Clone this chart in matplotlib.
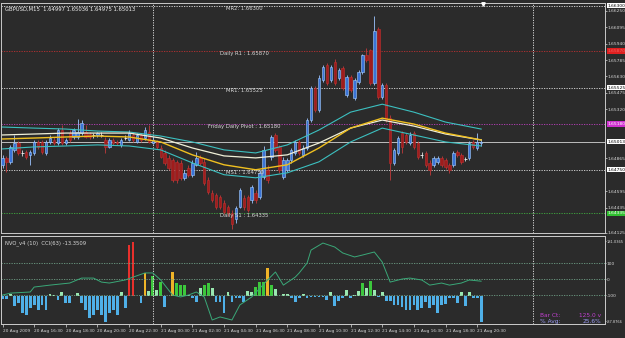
import matplotlib
matplotlib.use('Agg')
import matplotlib.pyplot as plt
import matplotlib.transforms as mtransforms
import numpy as np

# GBPUSD M15, 20 Aug 2009 14:30 .. 21 Aug 2009 20:45
opens = [1.64795, 1.64860, 1.64823, 1.64936, 1.65001, 1.64907, 1.64917, 1.64889, 1.64907, 1.65011,
         1.65011, 1.64907, 1.65011, 1.65030, 1.65001, 1.65124, 1.65001, 1.65095, 1.65058, 1.65058,
         1.65095, 1.65105, 1.65086, 1.65077, 1.65077, 1.65077, 1.65030, 1.64964, 1.65030, 1.65011,
         1.64983, 1.65048, 1.65030, 1.65077, 1.65011, 1.65077, 1.65048, 1.65105, 1.65001, 1.65011,
         1.64954, 1.64907, 1.64860, 1.64842, 1.64823, 1.64813, 1.64672, 1.64766, 1.64701, 1.64795,
         1.64860, 1.64823, 1.64654, 1.64531, 1.64513, 1.64494, 1.64437, 1.64400, 1.64343, 1.64278,
         1.64400, 1.64484, 1.64494, 1.64466, 1.64531, 1.64494, 1.64682, 1.64748, 1.64870, 1.65077,
         1.64964, 1.64682, 1.64748, 1.64842, 1.64907, 1.65011, 1.64889, 1.64954, 1.65218, 1.65518,
         1.65312, 1.65594, 1.65735, 1.65594, 1.65763, 1.65612, 1.65706, 1.65453, 1.65622, 1.65424,
         1.65575, 1.65669, 1.65829, 1.65876, 1.65565, 1.66082, 1.65434, 1.65547, 1.65236, 1.64813,
         1.64907, 1.65095, 1.65077, 1.65001, 1.65095, 1.65001, 1.64889, 1.64907, 1.64813, 1.64795,
         1.64823, 1.64860, 1.64842, 1.64795, 1.64795, 1.64917, 1.64889, 1.64851, 1.64860, 1.65011,
         1.64954, 1.64997]
closes = [1.64860, 1.64823, 1.64964, 1.65001, 1.64907, 1.64907, 1.64870, 1.64917, 1.65011, 1.64964,
          1.64917, 1.65011, 1.65048, 1.65001, 1.65124, 1.65001, 1.65030, 1.65030, 1.65124, 1.65105,
          1.65189, 1.65058, 1.65058, 1.65077, 1.65095, 1.65077, 1.64964, 1.65030, 1.65001, 1.65001,
          1.65030, 1.65048, 1.65095, 1.65030, 1.65077, 1.65030, 1.65124, 1.65011, 1.65030, 1.64964,
          1.64870, 1.64813, 1.64766, 1.64654, 1.64654, 1.64672, 1.64719, 1.64701, 1.64813, 1.64860,
          1.64813, 1.64625, 1.64541, 1.64466, 1.64400, 1.64400, 1.64353, 1.64343, 1.64231, 1.64390,
          1.64560, 1.64400, 1.64372, 1.64588, 1.64466, 1.64719, 1.64936, 1.64654, 1.65058, 1.64936,
          1.64748, 1.64842, 1.64842, 1.64936, 1.65011, 1.64907, 1.64954, 1.65218, 1.65518, 1.65312,
          1.65612, 1.65716, 1.65565, 1.65716, 1.65565, 1.65688, 1.65518, 1.65622, 1.65500, 1.65594,
          1.65669, 1.65829, 1.65782, 1.65565, 1.66064, 1.65434, 1.65547, 1.65218, 1.64813, 1.64936,
          1.65048, 1.64964, 1.65011, 1.65077, 1.64964, 1.64870, 1.64889, 1.64795, 1.64748, 1.64860,
          1.64860, 1.64795, 1.64776, 1.64748, 1.64907, 1.64889, 1.64823, 1.64851, 1.65001, 1.64964,
          1.65011, 1.65013]
highs = [1.64889, 1.64879, 1.64983, 1.65077, 1.65020, 1.64936, 1.64936, 1.64936, 1.65030, 1.65030,
         1.65030, 1.65030, 1.65077, 1.65058, 1.65142, 1.65171, 1.65048, 1.65124, 1.65142, 1.65227,
         1.65218, 1.65171, 1.65105, 1.65095, 1.65105, 1.65105, 1.65058, 1.65048, 1.65048, 1.65030,
         1.65048, 1.65077, 1.65124, 1.65105, 1.65095, 1.65095, 1.65152, 1.65171, 1.65058, 1.65030,
         1.64983, 1.64936, 1.64889, 1.64860, 1.64842, 1.64842, 1.64748, 1.64795, 1.64842, 1.64917,
         1.64889, 1.64860, 1.64682, 1.64560, 1.64531, 1.64513, 1.64466, 1.64419, 1.64372, 1.64409,
         1.64578, 1.64513, 1.64513, 1.64607, 1.64560, 1.64748, 1.64973, 1.64795, 1.65077, 1.65095,
         1.64983, 1.64870, 1.64860, 1.64954, 1.65030, 1.65030, 1.64983, 1.65236, 1.65537, 1.65537,
         1.65641, 1.65735, 1.65753, 1.65735, 1.65800, 1.65706, 1.65725, 1.65641, 1.65641, 1.65612,
         1.65688, 1.65847, 1.65904, 1.65894, 1.66205, 1.66101, 1.65565, 1.65565, 1.65265, 1.64954,
         1.65067, 1.65114, 1.65095, 1.65105, 1.65114, 1.65020, 1.64917, 1.64926, 1.64842, 1.64879,
         1.64879, 1.64879, 1.64860, 1.64813, 1.64926, 1.64936, 1.64907, 1.64870, 1.65020, 1.65030,
         1.65095, 1.65036]
lows = [1.64766, 1.64729, 1.64804, 1.64917, 1.64889, 1.64879, 1.64851, 1.64795, 1.64889, 1.64945,
        1.64898, 1.64889, 1.64992, 1.64983, 1.64983, 1.64983, 1.64983, 1.65011, 1.65039, 1.65039,
        1.65077, 1.65048, 1.65039, 1.65048, 1.65058, 1.65058, 1.64907, 1.64954, 1.64983, 1.64983,
        1.64964, 1.65030, 1.65020, 1.65011, 1.65001, 1.65011, 1.65030, 1.65001, 1.64992, 1.64945,
        1.64860, 1.64795, 1.64748, 1.64635, 1.64625, 1.64654, 1.64654, 1.64682, 1.64682, 1.64785,
        1.64795, 1.64607, 1.64522, 1.64447, 1.64381, 1.64381, 1.64334, 1.64315, 1.64184, 1.64249,
        1.64390, 1.64372, 1.64353, 1.64437, 1.64437, 1.64475, 1.64663, 1.64625, 1.64842, 1.64917,
        1.64719, 1.64663, 1.64729, 1.64813, 1.64889, 1.64889, 1.64870, 1.64936, 1.65199, 1.65293,
        1.65293, 1.65575, 1.65547, 1.65575, 1.65547, 1.65594, 1.65500, 1.65434, 1.65481, 1.65406,
        1.65556, 1.65650, 1.65763, 1.65547, 1.65547, 1.65415, 1.65415, 1.65199, 1.64654, 1.64795,
        1.64889, 1.64907, 1.64992, 1.64983, 1.64945, 1.64851, 1.64860, 1.64776, 1.64701, 1.64776,
        1.64804, 1.64776, 1.64757, 1.64719, 1.64776, 1.64870, 1.64804, 1.64832, 1.64842, 1.64945,
        1.64936, 1.64975]

# moving averages / envelope, read at every 8th bar
ma_idx = [0, 8, 16, 24, 32, 40, 48, 56, 64, 72, 80, 88, 96, 104, 112, 121]
band_upper = [1.65152, 1.65142, 1.65133, 1.65114, 1.65105, 1.65067, 1.65011, 1.64936,
              1.64907, 1.64983, 1.65124, 1.65293, 1.65368, 1.65293, 1.65199, 1.65133]
ma_white = [1.65077, 1.65086, 1.65095, 1.65095, 1.65095, 1.65048, 1.64954, 1.64879,
            1.64860, 1.64889, 1.65001, 1.65142, 1.65218, 1.65161, 1.65086, 1.65030]
ma_yellow = [1.65039, 1.65048, 1.65058, 1.65067, 1.65058, 1.65011, 1.64889, 1.64795,
             1.64748, 1.64795, 1.64954, 1.65142, 1.65236, 1.65180, 1.65095, 1.65030]
band_lower = [1.64945, 1.64964, 1.64973, 1.64983, 1.64973, 1.64936, 1.64813, 1.64701,
              1.64672, 1.64719, 1.64823, 1.65011, 1.65142, 1.65077, 1.65011, 1.64973]

# pivot levels
level_names = ['MR2: 1.66300', 'Daily R1 : 1.65870', 'MR1: 1.65525',
               'Friday Daily Pivot : 1.65180', 'MS1 : 1.64750', 'Daily S1 : 1.64335']
level_values = [1.66300, 1.65870, 1.65525, 1.65180, 1.64750, 1.64335]
level_colors = ['#e0e0e0', '#c03030', '#e0e0e0', '#c040c0', '#e0e0e0', '#40b040']
level_label_x = [56.5, 55, 56.5, 52, 56.5, 55]
price_ticks = [1.66250, 1.66095, 1.65940, 1.65785, 1.65630, 1.65475, 1.65320,
               1.64855, 1.64545, 1.64390, 1.64150]
price_tick_labels = ['1.66250', '1.66095', '1.65940', '1.65785', '1.65630', '1.65475', '1.65320',
                     '1.64865', '1.64595', '1.64435', '1.64125']

# NVO histogram and CCI(63)
nvo = [-3, -3, 2, -10, -7, -17, -19, -12, -9, -14,
       -9, -14, 2, 1, -4, 4, -7, -7, 0, 3,
       -7, -14, -22, -19, -14, -19, -26, -17, -14, -19,
       4, -12, 51, 54, 0, -7, 23, 5, 20, 6,
       14, -11, 0, 24, 13, 11, 11, 1, -2, -6,
       8, 11, 13, 8, -6, -6, -17, 4, -6, -2,
       -2, -6, 5, 4, 9, 14, 14, 28, 11, 7,
       0, 2, 2, -2, -6, -2, 2, -2, -1, -1,
       -1, -1, -4, 4, -10, -5, -2, 6, -2, 1,
       5, 13, 8, 15, 6, -1, 4, -5, -5, -9,
       -9, -11, -14, -14, -9, -14, -12, -6, -12, -9,
       -17, -9, -8, -2, -2, -7, 4, -10, 4, -2,
       -2, -26]
cci_idx = [0, 2, 7, 8, 12, 17, 20, 23, 25, 27, 31, 33, 36, 38, 40, 42, 43, 45, 47, 49,
           51, 53, 55, 58, 60, 63, 67, 69, 71, 74, 75, 77, 78, 81, 84, 86, 89, 91, 94, 96,
           98, 101, 103, 106, 108, 111, 113, 116, 118, 121]
cci = [-100, -88, -81, -50, -38, -25, 6, 6, -19, -25, -6, 12, 38, 38, -6, -69, -100, -112, -100, -81,
       -112, -256, -237, -256, -162, -112, -6, 44, -38, 12, 38, 100, 181, 225, 200, 163, 138, 150, 169, 106,
       -19, 0, 6, -6, -38, -25, -38, -25, -6, -13.35]
ind_ticks = [235, 100, 0, -100, -265]
ind_tick_labels = ['181.0365', '100', '0', '-100', '-87.8766']

time_ticks = [0, 8, 16, 24, 32, 40, 48, 56, 64, 72, 80, 88, 96, 104, 112, 120]
time_labels = ['20 Aug 2009', '20 Aug 16:30', '20 Aug 18:30', '20 Aug 20:30', '20 Aug 22:30',
               '21 Aug 00:30', '21 Aug 02:30', '21 Aug 04:30', '21 Aug 06:30', '21 Aug 08:30',
               '21 Aug 10:30', '21 Aug 12:30', '21 Aug 14:30', '21 Aug 16:30', '21 Aug 18:30',
               '21 Aug 20:30']
day_breaks = [38, 134]

BG = '#2b2b2b'
FG = '#d8d8d8'
FS = 3.2
plt.rcParams['font.family'] = ['DejaVu Sans']

fig = plt.figure(figsize=(6.25, 3.38), dpi=100, facecolor=BG)
W, H = 625.0, 338.0
ax = fig.add_axes([0.0015, 1 - 233 / H, 604 / W, 230 / H], facecolor=BG)
ax2 = fig.add_axes([0.0015, 1 - 324 / H, 604 / W, 88 / H], facecolor=BG)

x = np.arange(len(closes))
xlim = (-0.4, 152.3)

# candles
o = np.array(opens); c = np.array(closes)
hi = np.array(highs); lo = np.array(lows)
up = c > o
dn = c < o
dj = c == o
ax.vlines(x[up], lo[up], hi[up], color='#9cc4ff', lw=0.6, zorder=3)
ax.vlines(x[dn], lo[dn], hi[dn], color='#c03a3a', lw=0.6, zorder=3)
ax.vlines(x[dj], lo[dj], hi[dj], color='#e0e0e0', lw=0.6, zorder=3)
ax.bar(x[up], (c - o)[up], bottom=o[up], width=0.62, color='#3a74d8', edgecolor='#a8d0ff', lw=0.4, zorder=4)
ax.bar(x[dn], (c - o)[dn], bottom=o[dn], width=0.62, color='#a01c1c', edgecolor='#c03030', lw=0.4, zorder=4)
ax.hlines(c[dj], x[dj] - 0.35, x[dj] + 0.35, color='#f0f0f0', lw=0.6, zorder=4)

# averages
ax.plot(ma_idx, band_upper, color='#3cc0c0', lw=0.8, zorder=5)
ax.plot(ma_idx, band_lower, color='#3cc0c0', lw=0.8, zorder=5)
ax.plot(ma_idx, ma_white, color='#f0f0d8', lw=0.9, zorder=5)
ax.plot(ma_idx, ma_yellow, color='#f0c020', lw=1.0, zorder=5)

# pivot lines and labels
for name, lvl, col, xt in zip(level_names, level_values, level_colors, level_label_x):
    ax.axhline(lvl, color=col, lw=0.6, ls=(0, (1.5, 1.5)), zorder=2)
    ax.text(xt, lvl, name, color='#d8d8d8', fontsize=3.8, va='top', ha='left', zorder=6)
ax.axhline(closes[-1], color='#bdbdbd', lw=0.7, zorder=2)

for db in day_breaks:
    ax.axvline(db, color='#e8e8e8', lw=0.6, ls=(0, (1.5, 1.5)), zorder=1)
    ax2.axvline(db, color='#e8e8e8', lw=0.6, ls=(0, (1.5, 1.5)), zorder=1)

ax.set_xlim(*xlim)
ax.set_ylim(1.64150, 1.66325)
ax.yaxis.tick_right()
ax.set_yticks(price_ticks)
ax.set_yticklabels(price_tick_labels)
ax.tick_params(axis='y', colors=FG, labelsize=FS, length=1.5, width=0.5, pad=0.6)
ax.set_xticks([])

# highlighted price boxes
trans = mtransforms.blended_transform_factory(ax.transAxes, ax.transData)
box_values = [1.66300, 1.65870, 1.65525, 1.65180, closes[-1], 1.64750, 1.64335]
box_faces = ['#ffffff', '#e02020', '#ffffff', '#d030d0', '#ffffff', '#ffffff', '#30c030']
box_texts = ['black', '#f06060', 'black', '#ffffff', 'black', 'black', '#ffffff']
for val, fc, tc in zip(box_values, box_faces, box_texts):
    ax.text(1.0045, val, '%.5f' % val, transform=trans, fontsize=FS, color=tc, va='center',
            ha='left', bbox=dict(boxstyle='square,pad=0.15', fc=fc, ec='none'), zorder=10, clip_on=False)

ax.plot([121.5], [1.66318], marker='v', color='white', ms=2.5, zorder=10, clip_on=False)
ax.text(0.006, 0.985, 'GBPUSD,M15  1.64997 1.65036 1.64975 1.65013', transform=ax.transAxes,
        color='#f0f0f0', fontsize=3.8, va='top', ha='left')

# indicator window
ax2h = ax2.twinx()
colors = []
for v in nvo:
    if v >= 40:
        colors.append('#e8302c')
    elif v >= 22:
        colors.append('#f0b428')
    elif v >= 9:
        colors.append('#3cc83c')
    elif v > 0:
        colors.append('#9ae8b0')
    else:
        colors.append('#4fb0e8')
ax2h.bar(x, nvo, width=0.7, color=colors, zorder=3)
ax2h.set_ylim(-28, 60)
ax2h.set_yticks([])
ax2h.set_xlim(*xlim)

for lv in (100, 0, -100):
    ax2.axhline(lv, color='#6f9f86', lw=0.6, ls=(0, (1.5, 1.5)), zorder=1)
ax2.plot(cci_idx, cci, color='#3aa878', lw=0.7, zorder=5)
ax2.set_zorder(ax2h.get_zorder() + 1)
ax2.patch.set_visible(False)
ax2h.patch.set_facecolor(BG)
ax2.set_xlim(*xlim)
ax2.set_ylim(-281, 269)
ax2.yaxis.tick_right()
ax2.set_yticks(ind_ticks)
ax2.set_yticklabels(ind_tick_labels)
ax2.tick_params(axis='y', colors=FG, labelsize=FS, length=1, width=0.5, pad=0.4)
for lab in ax2.get_yticklabels():
    if len(lab.get_text()) > 6:
        lab.set_fontsize(2.6)
ax2.set_xticks(time_ticks)
ax2.set_xticklabels(time_labels, ha='left')
ax2.tick_params(axis='x', colors=FG, labelsize=3.1, length=2, width=0.5, pad=1.5)
ax2.text(0.006, 0.95, 'NVO_v4 (10)  CCI(63) -13.3509', transform=ax2.transAxes,
         color='#d8d8d8', fontsize=3.8, va='top', ha='left')
ax2.text(136, -225, 'Bar Ct:', color='#c040d0', fontsize=4.2, va='center')
ax2.text(151.3, -225, '125.0 v', color='#c040d0', fontsize=4.2, va='center', ha='right')
ax2.text(136, -265, '% Avg:', color='#9a9af0', fontsize=4.2, va='center')
ax2.text(151.3, -265, '25.6%', color='#9a9af0', fontsize=4.2, va='center', ha='right')

for a in (ax, ax2, ax2h):
    for s in a.spines.values():
        s.set_color('#c8c8c8')
        s.set_linewidth(0.7)

fig.savefig('out.png', dpi=100, facecolor=BG)
